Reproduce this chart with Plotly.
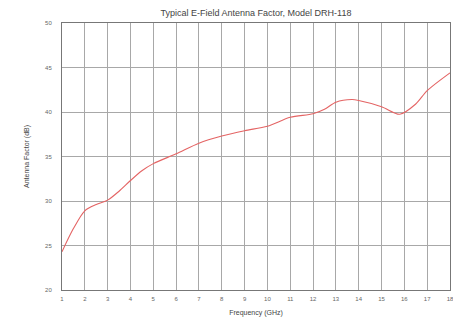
import plotly.graph_objects as go

freq_ghz = [1, 1.5, 2, 2.5, 3, 3.5, 4, 4.5, 5, 6, 7, 8, 9, 10, 11, 12, 12.5, 13, 13.7, 14, 15, 15.8, 16.5, 17, 18]
antenna_factor_db = [24.3, 26.9, 28.9, 29.6, 30.1, 31.1, 32.3, 33.4, 34.2, 35.3, 36.5, 37.3, 37.9, 38.4, 39.4, 39.8, 40.3, 41.1, 41.4, 41.3, 40.6, 39.75, 40.9, 42.4, 44.4]

x_ticks = list(range(1, 19))
y_ticks = [20, 25, 30, 35, 40, 45, 50]

fig = go.Figure()
fig.add_trace(go.Scatter(
    x=freq_ghz, y=antenna_factor_db, mode="lines",
    line=dict(color="#e46464", width=1.1, shape="spline", smoothing=0.8),
    hoverinfo="skip", showlegend=False,
))

axis_font = dict(family="Liberation Sans, Arial, sans-serif", size=7, color="#555555")
fig.update_layout(
    width=461, height=326,
    margin=dict(l=54, r=19, t=15, b=44),
    paper_bgcolor="white", plot_bgcolor="white",
    title=dict(text="Typical E-Field Antenna Factor, Model DRH-118",
               x=248 / 461, xanchor="center", y=1 - 5 / 326, yanchor="middle",
               font=dict(family="Liberation Sans, Arial, sans-serif", size=9, color="#444444")),
    font=axis_font,
)
fig.update_xaxes(
    range=[1, 18], tickvals=x_ticks, ticktext=[str(t) for t in x_ticks],
    showgrid=True, gridcolor="#a8a8a8", gridwidth=1,
    showline=True, linecolor="#777777", linewidth=1, mirror=True,
    zeroline=False, ticks="", ticklen=0, ticklabelstandoff=3,
    title=dict(text="Frequency (GHz)", font=dict(size=7, color="#444444"), standoff=8),
    tickfont=dict(size=6, color="#666666"),
)
fig.update_yaxes(
    range=[20, 50], tickvals=y_ticks, ticktext=[str(t) for t in y_ticks],
    showgrid=True, gridcolor="#a8a8a8", gridwidth=1,
    showline=True, linecolor="#777777", linewidth=1, mirror=True,
    zeroline=False, ticks="", ticklen=0, ticklabelstandoff=8,
    title=dict(text="Antenna Factor (dB)", font=dict(size=7, color="#444444"), standoff=14),
    tickfont=dict(size=6, color="#666666"),
)

fig.write_html("out.html")
